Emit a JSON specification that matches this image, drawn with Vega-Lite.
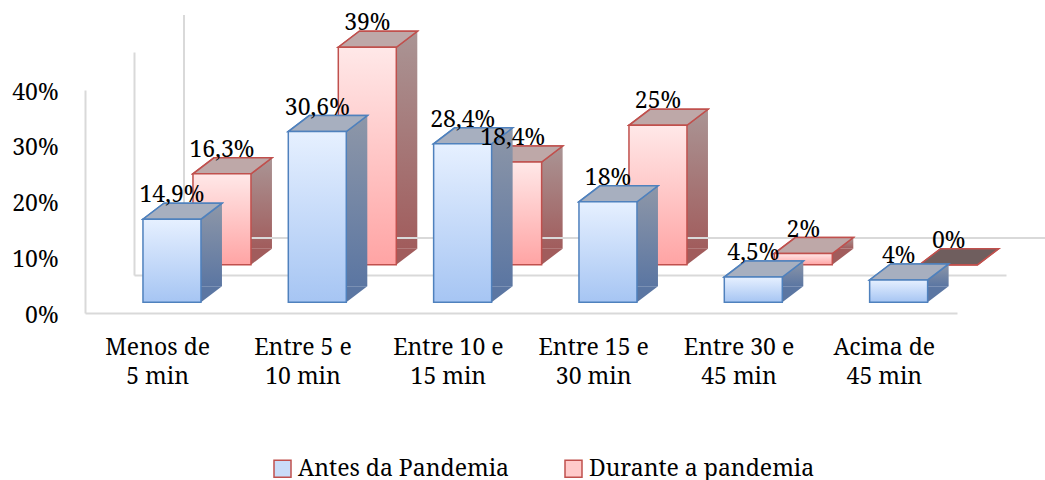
{
  "$schema": "https://vega.github.io/schema/vega-lite/v6.json",
  "width": 872,
  "height": 223,
  "autosize": "none",
  "padding": {"left": 85, "top": 90, "right": 88, "bottom": 167},
  "background": "white",
  "config": {
    "view": {"stroke": null},
    "locale": {
      "number": {"decimal": ",", "thousands": ".", "grouping": [3], "currency": ["", " €"], "percent": "%"}
    }
  },
  "datasets": {
    "tempo": [
      {"faixa": "Menos de 5 min", "serie": "Antes da Pandemia", "v": 0.149},
      {"faixa": "Entre 5 e 10 min", "serie": "Antes da Pandemia", "v": 0.306},
      {"faixa": "Entre 10 e 15 min", "serie": "Antes da Pandemia", "v": 0.284},
      {"faixa": "Entre 15 e 30 min", "serie": "Antes da Pandemia", "v": 0.18},
      {"faixa": "Entre 30 e 45 min", "serie": "Antes da Pandemia", "v": 0.045},
      {"faixa": "Acima de 45 min", "serie": "Antes da Pandemia", "v": 0.04},
      {"faixa": "Menos de 5 min", "serie": "Durante a pandemia", "v": 0.163},
      {"faixa": "Entre 5 e 10 min", "serie": "Durante a pandemia", "v": 0.39},
      {"faixa": "Entre 10 e 15 min", "serie": "Durante a pandemia", "v": 0.184},
      {"faixa": "Entre 15 e 30 min", "serie": "Durante a pandemia", "v": 0.25},
      {"faixa": "Entre 30 e 45 min", "serie": "Durante a pandemia", "v": 0.02},
      {"faixa": "Acima de 45 min", "serie": "Durante a pandemia", "v": 0.0}
    ],
    "parede": [{"plano": "fundo"}]
  },
  "data": {"name": "tempo"},
  "layer": [
    {
      "description": "Durante: side face (also carries the shared axes)",
      "transform": [{"filter": "datum.serie === 'Durante a pandemia'"}],
      "mark": {
        "type": "bar", "size": 21, "xOffset": 103.8, "yOffset": -64.3, "y2Offset": -64.3,
        "color": {"gradient": "linear", "x1": 0, "y1": 0, "x2": 0, "y2": 1,
          "stops": [{"offset": 0, "color": "#AA9595"}, {"offset": 1, "color": "#A15C5C"}]}
      },
      "encoding": {
        "x": {
          "field": "faixa", "type": "nominal", "sort": null,
          "scale": {
            "domain": ["Menos de 5 min", "Entre 5 e 10 min", "Entre 10 e 15 min", "Entre 15 e 30 min", "Entre 30 e 45 min", "Acima de 45 min"],
            "paddingInner": 0, "paddingOuter": 0
          },
          "axis": {
            "title": null, "ticks": false, "tickSize": 0, "labelAngle": 0, "labelAlign": "center",
            "domainColor": "#D9D9D9", "domainWidth": 2,
            "labelFont": "Noto Serif", "labelFontSize": 23, "labelColor": "#000000",
            "labelBaseline": "top", "labelPadding": 23, "labelLineHeight": 29, "labelLimit": 300,
            "labelExpr": "[join(slice(split(datum.label, ' '), 0, -2), ' '), join(slice(split(datum.label, ' '), -2), ' ')]"
          }
        },
        "y": {
          "field": "v", "type": "quantitative",
          "scale": {"domain": [0, 0.4], "nice": false, "zero": true},
          "axis": {
            "title": null, "ticks": false, "tickSize": 0, "grid": false,
            "values": [0, 0.1, 0.2, 0.3, 0.4], "format": ".0%",
            "domainColor": "#D9D9D9", "domainWidth": 2,
            "labelFont": "Noto Serif", "labelFontSize": 23, "labelColor": "#000000",
            "labelPadding": 27, "labelOffset": 2
          }
        },
        "y2": {"datum": 0}
      }
    },
    {
      "description": "3D walls: middle plane floor line",
      "data": {"name": "parede"},
      "mark": {"type": "rule", "color": "#D9D9D9", "strokeWidth": 2, "xOffset": 49.5, "x2Offset": 122.17, "yOffset": -37.5},
      "encoding": {
        "x": {"datum": "Menos de 5 min", "bandPosition": 0},
        "x2": {"datum": "Acima de 45 min"},
        "y": {"datum": 0, "type": "quantitative"}
      }
    },
    {
      "description": "3D walls: back plane floor line",
      "data": {"name": "parede"},
      "mark": {"type": "rule", "color": "#D9D9D9", "strokeWidth": 2, "xOffset": 99, "x2Offset": 171.67, "yOffset": -75},
      "encoding": {
        "x": {"datum": "Menos de 5 min", "bandPosition": 0},
        "x2": {"datum": "Acima de 45 min"},
        "y": {"datum": 0, "type": "quantitative"}
      }
    },
    {
      "description": "3D walls: middle plane side edge",
      "data": {"name": "parede"},
      "mark": {"type": "rule", "color": "#D9D9D9", "strokeWidth": 2, "xOffset": 49.5, "yOffset": -37.5, "y2Offset": -37.5},
      "encoding": {
        "x": {"datum": "Menos de 5 min", "bandPosition": 0},
        "y": {"datum": 0, "type": "quantitative"},
        "y2": {"datum": 0.4}
      }
    },
    {
      "description": "3D walls: back plane side edge",
      "data": {"name": "parede"},
      "mark": {"type": "rule", "color": "#D9D9D9", "strokeWidth": 2, "xOffset": 99, "yOffset": -75, "y2Offset": -75},
      "encoding": {
        "x": {"datum": "Menos de 5 min", "bandPosition": 0},
        "y": {"datum": 0, "type": "quantitative"},
        "y2": {"datum": 0.4}
      }
    },
    {
      "description": "Durante: lower corner of the side face",
      "transform": [{"filter": "datum.serie === 'Durante a pandemia'"}],
      "mark": {"type": "point", "filled": true, "opacity": 1, "size": 4, "strokeWidth": 0,
        "fill": "#A15C5C", "shape": "M93.3,-64.3 L93.3,-48.3 L114.3,-64.3 Z"},
      "encoding": {
        "x": {"field": "faixa", "type": "nominal", "sort": null},
        "y": {"datum": 0, "type": "quantitative"}
      }
    },
    {
      "description": "Durante: top face footprint, colour-keyed by series for the legend",
      "transform": [{"filter": "datum.serie === 'Durante a pandemia'"}],
      "mark": {"type": "point", "filled": true, "opacity": 1, "size": 4, "stroke": "#C0504D", "strokeWidth": 1.5,
        "shape": "M35.3,-48.3 L93.3,-48.3 L114.3,-64.3 L56.3,-64.3 Z"},
      "encoding": {
        "x": {"field": "faixa", "type": "nominal", "sort": null},
        "y": {"field": "v", "type": "quantitative"},
        "color": {
          "field": "serie", "type": "nominal",
          "scale": {"domain": ["Antes da Pandemia", "Durante a pandemia"], "range": ["#C9DCF8", "#FFCACA"]},
          "legend": {
            "title": null, "orient": "none", "legendX": 186, "legendY": 367, "direction": "horizontal",
            "symbolType": "square", "symbolSize": 289, "symbolStrokeWidth": 1.5,
            "labelFont": "Noto Serif", "labelFontSize": 23, "labelColor": "#000000",
            "labelOffset": 4, "columnPadding": 52, "labelLimit": 400,
            "encode": {
              "symbols": {
                "stroke": {
                  "condition": {"test": "datum.value === 'Antes da Pandemia'", "value": "#4F81BD"},
                  "value": "#C0504D"
                }
              }
            }
          }
        }
      }
    },
    {
      "description": "Durante: top face",
      "transform": [{"filter": "datum.serie === 'Durante a pandemia' && datum.v > 0"}],
      "mark": {"type": "point", "filled": true, "opacity": 1, "size": 4, "stroke": "#C0504D", "strokeWidth": 1.5,
        "fill": "#BEA8A8", "shape": "M35.3,-48.3 L93.3,-48.3 L114.3,-64.3 L56.3,-64.3 Z"},
      "encoding": {
        "x": {"field": "faixa", "type": "nominal", "sort": null},
        "y": {"field": "v", "type": "quantitative"}
      }
    },
    {
      "description": "Durante: top face of an empty column",
      "transform": [{"filter": "datum.serie === 'Durante a pandemia' && datum.v === 0"}],
      "mark": {"type": "point", "filled": true, "opacity": 1, "size": 4, "stroke": "#C0504D", "strokeWidth": 1.5,
        "fill": "#6F5E5E", "shape": "M35.3,-48.3 L93.3,-48.3 L114.3,-64.3 L56.3,-64.3 Z"},
      "encoding": {
        "x": {"field": "faixa", "type": "nominal", "sort": null},
        "y": {"field": "v", "type": "quantitative"}
      }
    },
    {
      "description": "Durante: front face",
      "transform": [{"filter": "datum.serie === 'Durante a pandemia'"}],
      "mark": {
        "type": "bar", "size": 58, "xOffset": 64.3, "yOffset": -48.3, "y2Offset": -48.3,
        "stroke": "#C0504D", "strokeWidth": 1.5,
        "color": {"gradient": "linear", "x1": 0, "y1": 0, "x2": 0, "y2": 1,
          "stops": [{"offset": 0, "color": "#FFE8E8"}, {"offset": 1, "color": "#FFA4A4"}]}
      },
      "encoding": {
        "x": {"field": "faixa", "type": "nominal", "sort": null},
        "y": {"field": "v", "type": "quantitative"},
        "y2": {"datum": 0}
      }
    },
    {
      "description": "Antes: side face",
      "transform": [{"filter": "datum.serie === 'Antes da Pandemia'"}],
      "mark": {
        "type": "bar", "size": 21, "xOffset": 53.8, "yOffset": -26.8, "y2Offset": -26.8,
        "color": {"gradient": "linear", "x1": 0, "y1": 0, "x2": 0, "y2": 1,
          "stops": [{"offset": 0, "color": "#8E97A8"}, {"offset": 1, "color": "#5B76A2"}]}
      },
      "encoding": {
        "x": {"field": "faixa", "type": "nominal", "sort": null},
        "y": {"field": "v", "type": "quantitative"},
        "y2": {"datum": 0}
      }
    },
    {
      "description": "Antes: lower corner of the side face",
      "transform": [{"filter": "datum.serie === 'Antes da Pandemia'"}],
      "mark": {"type": "point", "filled": true, "opacity": 1, "size": 4, "strokeWidth": 0,
        "fill": "#5B76A2", "shape": "M43.3,-26.8 L43.3,-10.8 L64.3,-26.8 Z"},
      "encoding": {
        "x": {"field": "faixa", "type": "nominal", "sort": null},
        "y": {"datum": 0, "type": "quantitative"}
      }
    },
    {
      "description": "Antes: top face footprint, colour-keyed by series for the legend",
      "transform": [{"filter": "datum.serie === 'Antes da Pandemia'"}],
      "mark": {"type": "point", "filled": true, "opacity": 1, "size": 4, "stroke": "#4F81BD", "strokeWidth": 1.5,
        "shape": "M-14.7,-10.8 L43.3,-10.8 L64.3,-26.8 L6.3,-26.8 Z"},
      "encoding": {
        "x": {"field": "faixa", "type": "nominal", "sort": null},
        "y": {"field": "v", "type": "quantitative"},
        "color": {"field": "serie", "type": "nominal"}
      }
    },
    {
      "description": "Antes: top face",
      "transform": [{"filter": "datum.serie === 'Antes da Pandemia'"}],
      "mark": {"type": "point", "filled": true, "opacity": 1, "size": 4, "stroke": "#4F81BD", "strokeWidth": 1.5,
        "fill": "#A7AFBF", "shape": "M-14.7,-10.8 L43.3,-10.8 L64.3,-26.8 L6.3,-26.8 Z"},
      "encoding": {
        "x": {"field": "faixa", "type": "nominal", "sort": null},
        "y": {"field": "v", "type": "quantitative"}
      }
    },
    {
      "description": "Antes: front face",
      "transform": [{"filter": "datum.serie === 'Antes da Pandemia'"}],
      "mark": {
        "type": "bar", "size": 58, "xOffset": 14.3, "yOffset": -10.8, "y2Offset": -10.8,
        "stroke": "#4F81BD", "strokeWidth": 1.5,
        "color": {"gradient": "linear", "x1": 0, "y1": 0, "x2": 0, "y2": 1,
          "stops": [{"offset": 0, "color": "#E6F0FF"}, {"offset": 1, "color": "#A6C5F3"}]}
      },
      "encoding": {
        "x": {"field": "faixa", "type": "nominal", "sort": null},
        "y": {"field": "v", "type": "quantitative"},
        "y2": {"datum": 0}
      }
    },
    {
      "description": "Durante: value labels",
      "transform": [{"filter": "datum.serie === 'Durante a pandemia'"}],
      "mark": {"type": "text", "font": "Noto Serif", "fontSize": 23, "color": "#000000",
        "align": "center", "baseline": "alphabetic", "xOffset": 64.3, "yOffset": -65.3},
      "encoding": {
        "x": {"field": "faixa", "type": "nominal", "sort": null},
        "y": {"field": "v", "type": "quantitative"},
        "text": {"field": "v", "type": "quantitative", "format": ".1~%"}
      }
    },
    {
      "description": "Antes: value labels",
      "transform": [{"filter": "datum.serie === 'Antes da Pandemia'"}],
      "mark": {"type": "text", "font": "Noto Serif", "fontSize": 23, "color": "#000000",
        "align": "center", "baseline": "alphabetic", "xOffset": 14.3, "yOffset": -27.8},
      "encoding": {
        "x": {"field": "faixa", "type": "nominal", "sort": null},
        "y": {"field": "v", "type": "quantitative"},
        "text": {"field": "v", "type": "quantitative", "format": ".1~%"}
      }
    }
  ]
}
